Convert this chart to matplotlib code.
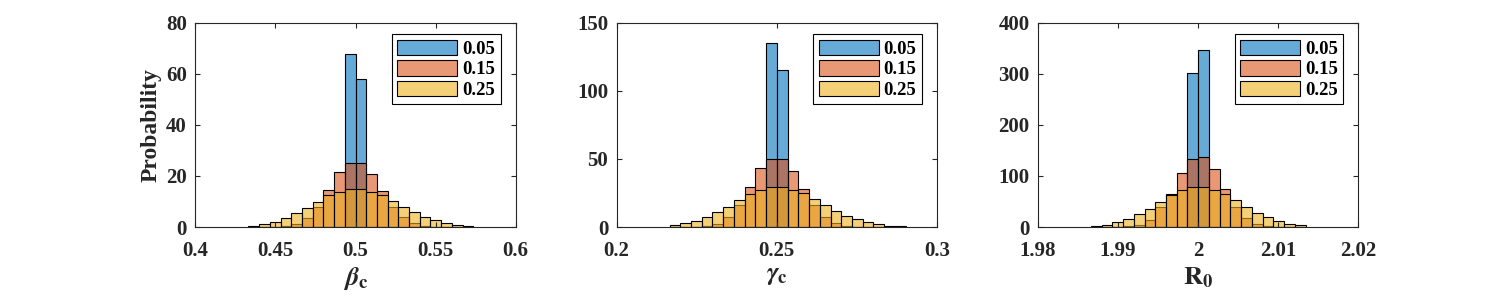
import matplotlib
matplotlib.use("Agg")
import matplotlib.pyplot as plt
import numpy as np

plt.rcParams['font.family'] = ['Liberation Serif', 'DejaVu Serif']
plt.rcParams['font.weight'] = 'bold'
plt.rcParams['mathtext.fontset'] = 'stix'

# noise levels (legend)
levels = ['0.05', '0.15', '0.25']

# histogram bins: first edge, bin width
beta_start, beta_w = 0.5 - 10 * 0.00668, 0.00668
gamma_start, gamma_w = 0.25 - 10 * 0.00335, 0.00335
r0_start, r0_w = 2.0 - 10 * 0.00134, 0.00134

# beta_c, 21 bins
beta_005 = [0, 0, 0, 0, 0, 0, 0, 0, 0, 67.7, 57.8, 0, 0, 0, 0, 0, 0, 0, 0, 0, 0]
beta_015 = [0, 0, 0, 0.3, 1.0, 3.4, 7.7, 14.4, 21.4, 25.2,
            25.2, 20.7, 14.0, 7.7, 3.8, 1.4, 0.4, 0, 0, 0, 0]
beta_025 = [0.4, 1.0, 2.0, 3.4, 5.4, 7.3, 9.7, 12.4, 13.6, 14.8,
            14.8, 13.6, 12.4, 10.1, 8.0, 5.75, 3.8, 2.6, 1.4, 0.8, 0.4]

# gamma_c, 22 bins
gamma_005 = [0, 0, 0, 0, 0, 0, 0, 0, 0, 135.0, 115.0,
             0, 0, 0, 0, 0, 0, 0, 0, 0, 0, 0]
gamma_015 = [0, 0, 0, 0.5, 2.2, 7.3, 16.2, 29.1, 43.0, 50.2,
             49.7, 40.9, 27.7, 16.0, 7.1, 3.2, 0.7, 0, 0, 0, 0, 0]
gamma_025 = [1.2, 2.9, 4.4, 7.1, 11.0, 14.4, 19.6, 24.0, 26.9, 29.1,
             29.1, 26.9, 25.0, 20.3, 16.2, 11.5, 7.8, 5.6, 3.7, 2.0, 0.5, 0.5]

# R_0, 20 bins
r0_005 = [0, 0, 0, 0, 0, 0, 0, 0, 0, 301.0, 346.0, 0, 0, 0, 0, 0, 0, 0, 0, 0]
r0_015 = [0, 0, 0, 1.3, 3.3, 13.0, 38.5, 65.0, 105.0, 132.5,
          136.4, 113.0, 73.8, 38.5, 17.0, 5.2, 2.0, 0, 0, 0]
r0_025 = [1.3, 3.9, 9.8, 15.0, 25.5, 35.2, 49.0, 63.0, 71.8, 77.7,
          77.7, 71.8, 64.0, 52.2, 38.5, 27.4, 18.9, 11.7, 5.9, 3.3]

panels = [
    (beta_start, beta_w, [beta_005, beta_015, beta_025], r'$\beta_\mathbf{c}$',
     (0.4, 0.6), [0.4, 0.45, 0.5, 0.55, 0.6], ['0.4', '0.45', '0.5', '0.55', '0.6'],
     (0, 80), [0, 20, 40, 60, 80]),
    (gamma_start, gamma_w, [gamma_005, gamma_015, gamma_025], r'$\gamma_\mathbf{c}$',
     (0.2, 0.3), [0.2, 0.25, 0.3], ['0.2', '0.25', '0.3'],
     (0, 150), [0, 50, 100, 150]),
    (r0_start, r0_w, [r0_005, r0_015, r0_025], r'$\mathbf{R}_\mathbf{0}$',
     (1.98, 2.02), [1.98, 1.99, 2.0, 2.01, 2.02], ['1.98', '1.99', '2', '2.01', '2.02'],
     (0, 400), [0, 100, 200, 300, 400]),
]

colors = [(0, 0.447, 0.741, 0.6), (0.85, 0.325, 0.098, 0.6), (0.929, 0.694, 0.125, 0.6)]
axcol = '#262626'

fig = plt.figure(figsize=(15, 3), dpi=100)
lefts = [0.1302, 0.4111, 0.692]

for ii, (start, w, series, xlab, xlim, xt, xtl, ylim, yt) in enumerate(panels):
    ax = fig.add_axes([lefts[ii], 0.2433, 0.2136, 0.681])
    for vals, c, lab in zip(series, colors, levels):
        vals = np.array(vals)
        edges = start + w * np.arange(len(vals))
        ax.bar(edges, vals, width=w, align='edge', facecolor=c,
               edgecolor='black', linewidth=0.8, label=lab)
    ax.set_xlim(*xlim)
    ax.set_ylim(*ylim)
    ax.set_xticks(xt)
    ax.set_xticklabels(xtl)
    ax.set_yticks(yt)
    ax.tick_params(direction='in', top=True, right=True, length=3.5, width=0.8,
                   labelsize=15, colors=axcol, labelcolor=axcol)
    ax.tick_params(axis='x', pad=10)
    ax.tick_params(axis='y', pad=6)
    for sp in ax.spines.values():
        sp.set_color(axcol)
        sp.set_linewidth(0.8)
    ax.set_xlabel(xlab, fontsize=19, color=axcol, labelpad=3)
    if ii == 0:
        ax.set_ylabel('Probability', fontsize=17, fontweight='bold', color=axcol, labelpad=3)
    leg = ax.legend(loc='upper right', bbox_to_anchor=(0.953, 0.945), borderaxespad=0,
                    prop={'size': 13.5, 'weight': 'bold'}, handlelength=3.2,
                    handleheight=0.9, handletextpad=0.25, labelspacing=0.12,
                    borderpad=0.3, fancybox=False, framealpha=1)
    leg.get_frame().set_edgecolor('black')
    leg.get_frame().set_linewidth(0.8)

plt.savefig("out.png", dpi=100)
